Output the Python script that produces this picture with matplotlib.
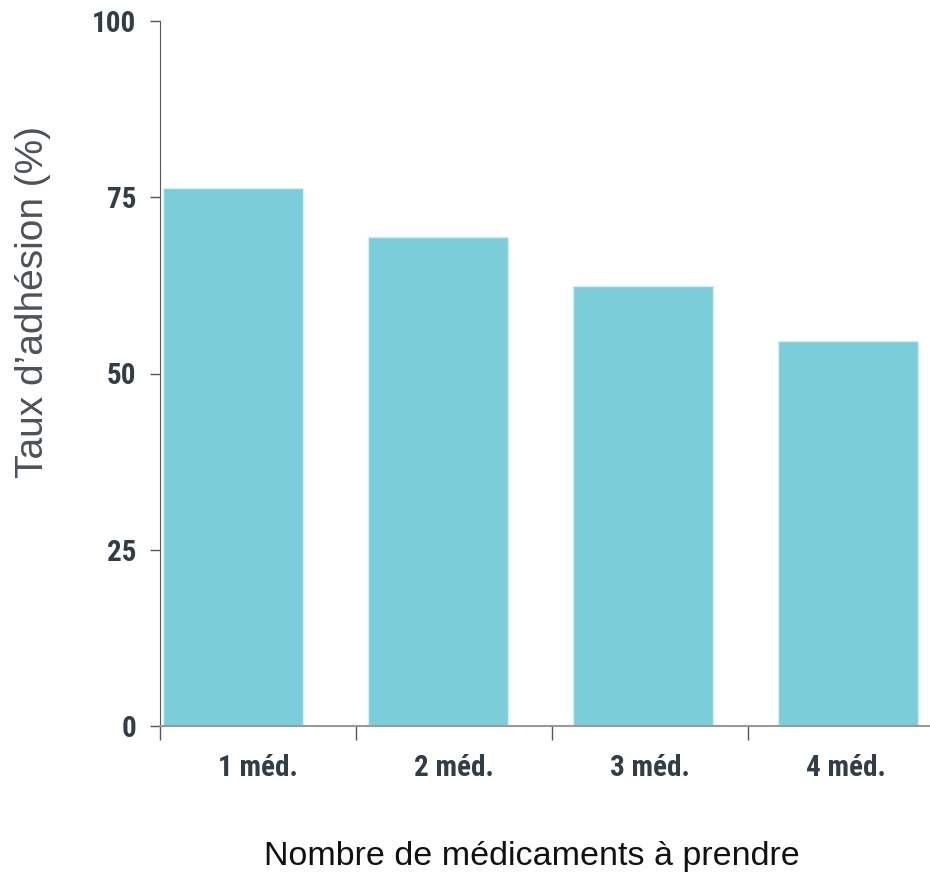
import matplotlib
matplotlib.use("Agg")
import matplotlib.pyplot as plt
import numpy as np

categories = ["1 méd.", "2 méd.", "3 méd.", "4 méd."]
values = [76.3, 69.4, 62.4, 54.6]
yticks = [0, 25, 50, 75, 100]
ylabel = "Taux d’adhésion (%)"
xlabel = "Nombre de médicaments à prendre"

fig = plt.figure(figsize=(9.3, 8.74), dpi=100)
ax = fig.add_axes([160/930, 148/874, 770/930, 705/874])

step = 1.046
width = 0.714
x = np.arange(len(categories))
ax.bar(x * step + 0.015, values, width=width, align="edge",
       color="#7ACED9", edgecolor="#d6eef2", linewidth=1.0, zorder=2)

ax.set_xlim(0, 770/196)
ax.set_ylim(0, 100)

ax.set_xticks(np.arange(len(categories)))
ax.set_xticklabels([])
ax.set_xticks(np.arange(len(categories)) + 0.5, minor=True)
ax.set_xticklabels(categories, minor=True)
ax.tick_params(axis="x", which="major", length=10, width=1, color="#555555", direction="out")
ax.tick_params(axis="x", which="minor", length=0, pad=20)
ax.set_yticks(yticks)
ax.tick_params(axis="y", length=7, width=1, color="#555555", pad=10)

for lab in ax.get_xticklabels(minor=True) + ax.get_yticklabels():
    lab.set_fontfamily(["Roboto Condensed", "DejaVu Sans"])
    lab.set_fontweight("bold")
    lab.set_fontsize(21)
    lab.set_color("#323d48")

for s in ["top", "right"]:
    ax.spines[s].set_visible(False)
ax.spines["left"].set_color("#555555")
ax.spines["left"].set_bounds(0, 100)
ax.spines["bottom"].set_color("#999999")
ax.spines["bottom"].set_linewidth(1.5)

fig.text(33/930, 1 - 302/874, ylabel, rotation=90, ha="center", va="center",
         fontsize=28, color="#4d5258", fontfamily=["Liberation Sans", "DejaVu Sans"])

fig.text(532/930, 1 - 856/874, xlabel, ha="center", va="center",
         fontsize=24.5, color="#111111", fontfamily=["Liberation Sans", "DejaVu Sans"])

fig.savefig("out.png", dpi=100)
